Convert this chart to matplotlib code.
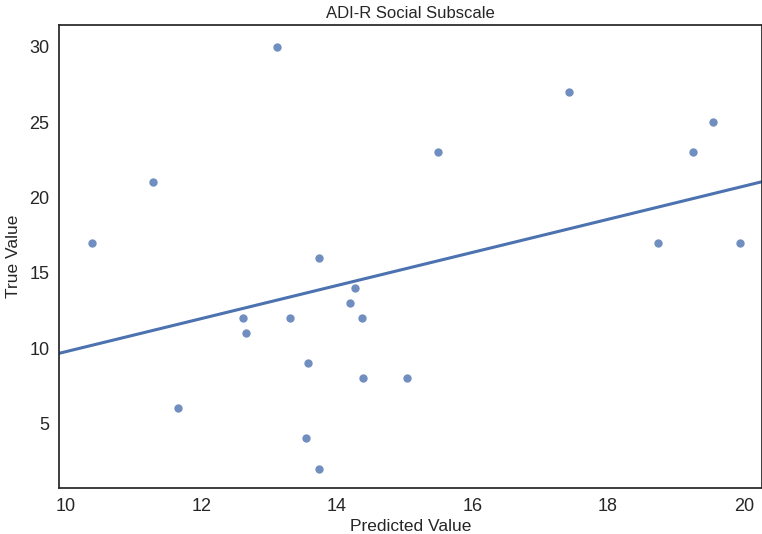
import matplotlib
matplotlib.use('Agg')
import matplotlib.pyplot as plt
import seaborn as sns
import numpy as np

predicted = [13.12, 15.49, 11.29, 10.39, 13.74, 14.27, 14.19, 12.62, 13.31, 14.37, 12.66,
             13.57, 14.39, 15.04, 11.66, 13.54, 13.74, 17.42, 19.55, 19.25, 18.73, 19.95]
true_vals = [30, 23, 21, 17, 16, 14, 13, 12, 12, 12, 11,
             9, 8, 8, 6, 4, 2, 27, 25, 23, 17, 17]

sns.set_style('white')
plt.rcParams['font.family'] = ['Liberation Sans', 'DejaVu Sans']

fig = plt.figure(figsize=(7.62, 5.34), dpi=100)
ax = fig.add_axes([0.0774, 0.0856, 0.9226, 0.8676])
ax.set_xlim(9.9, 20.27)
sns.regplot(x=np.array(predicted), y=np.array(true_vals), ax=ax, ci=None, truncate=False,
            color='#4C72B0', scatter_kws={'s': 36, 'alpha': 0.8, 'linewidths': 0},
            line_kws={'linewidth': 2.2})
ax.set_xlim(9.9, 20.27)
ax.set_ylim(0.69, 31.44)
ax.set_xticks([10, 12, 14, 16, 18, 20])
ax.set_yticks([5, 10, 15, 20, 25, 30])
ax.tick_params(labelsize=13, length=0, pad=7)
for s in ax.spines.values():
    s.set_color('.15')
    s.set_linewidth(1.25)
ax.set_xlabel('Predicted Value', fontsize=12.5, labelpad=3)
ax.set_ylabel('True Value', fontsize=12.5, labelpad=6)
ax.set_title('ADI-R Social Subscale', fontsize=12, pad=5)
fig.savefig('out.png', dpi=100)
